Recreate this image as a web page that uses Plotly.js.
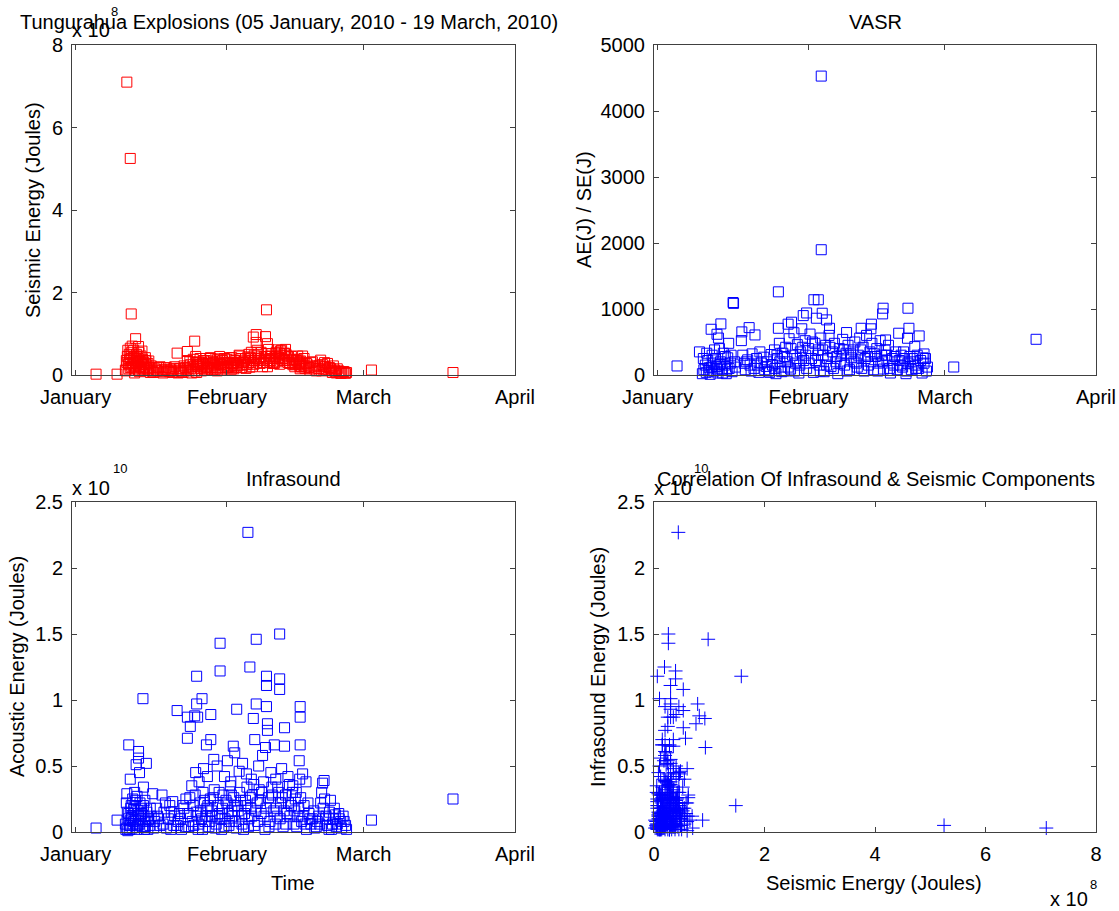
<!DOCTYPE html>
<html>
<head>
<meta charset="utf-8">
<script src="https://cdn.plot.ly/plotly-3.0.1.min.js"></script>
<style>
html,body{margin:0;padding:0;background:#fff;}
#chart{width:1119px;height:911px;}
</style>
</head>
<body>
<div id="chart"></div>
<script>
// ---------- DATA ----------
// Explosion events: day offset from 01 Jan 2010, seismic energy (x1e8 J), acoustic energy (x1e10 J)
const eventDay = [
 4.2, 8.5,
 10.5, 11.2, 11.4, 12.3, 11.2, 12.9, 10.9, 12.9, 12.9, 11.2, 13.8, 12.4, 14.5, 10.5, 13.9, 15.8,
 10.4, 10.6, 10.8, 11.0, 11.3, 11.5, 11.7, 11.9, 12.0, 12.2, 12.5, 12.6, 12.8, 13.0, 13.2, 13.4,
 13.5, 13.7, 14.0, 14.2, 14.4, 14.6, 14.8, 15.0, 15.2, 10.3, 10.7, 11.6, 12.1, 13.1, 14.1, 15.3,
 11.8, 13.6,
 16.2, 16.8, 17.3, 17.7, 18.1, 18.6, 19.0, 19.5, 19.9, 20.3, 20.8, 20.8, 21.3, 21.7, 22.2, 22.6,
 22.9, 22.9, 23.2, 23.5, 23.8, 19.3, 21.0,
 24.4, 24.8, 24.8, 25.9, 27.7, 25.0, 26.8, 27.7, 29.6, 29.6, 33.0, 35.3, 35.7, 37.0, 37.0, 36.4,
 36.7, 39.1, 39.1, 39.1, 41.8, 41.8, 41.8, 42.8, 39.3, 39.3, 38.9, 40.7, 42.8, 46.0, 46.0, 46.0,
 45.8, 32.3, 32.6, 31.1, 28.3, 26.2, 27.0, 25.3, 24.6, 29.0, 30.5, 31.8, 33.5, 34.2, 35.0, 36.0,
 37.5, 38.3, 40.0, 41.0, 42.2, 43.5, 44.5, 45.2, 46.5, 47.2,
 24.2, 24.7, 25.1, 25.5, 25.8, 26.1, 26.5, 26.9, 27.3, 27.6, 28.0, 28.4, 28.8, 29.2, 29.5, 29.9,
 30.2, 30.6, 31.0, 31.4, 31.7, 32.0, 32.4, 32.8, 33.2, 33.6, 34.0, 34.4, 34.8, 35.1, 35.5, 35.9,
 36.2, 36.6, 37.2, 37.6, 38.0, 38.5, 38.8, 39.5, 39.8, 40.2, 40.6, 41.3, 41.6, 42.0, 42.5, 43.0,
 43.3, 43.8, 44.2, 44.7, 45.0, 45.5, 45.9, 46.3, 46.8, 47.3, 47.8, 48.2, 48.5, 49.0, 49.5,
 50.2, 50.6, 50.9, 51.0, 51.3, 51.6, 52.0, 52.4, 52.8, 53.2, 53.6, 54.0, 54.5, 55.0, 55.5, 50.4,
 60.6, 77.3,
 10.2, 10.9, 11.1, 11.5, 11.9, 12.3, 12.7, 13.3, 13.9, 14.3, 14.9, 15.5, 16.0, 16.6, 17.0, 17.9,
 18.4, 19.6, 20.1, 21.5, 22.0, 22.5, 23.0, 23.4, 23.9, 24.1, 24.5, 24.9, 25.2, 25.6, 26.0, 26.4,
 26.7, 27.1, 27.5, 27.9, 28.2, 28.6, 29.1, 29.4, 29.8, 30.1, 30.4, 30.8, 31.2, 31.5, 31.9, 32.2,
 32.5, 32.9, 33.3, 33.8, 34.1, 34.6, 34.9, 35.4, 35.8, 36.1, 36.5, 36.9, 37.3, 37.8, 38.1, 38.6,
 39.0, 39.6, 39.9, 40.3, 40.9, 41.1, 41.4, 41.9, 42.3, 42.7, 43.1, 43.6, 43.9, 44.4, 44.9, 45.3,
 45.7, 46.1, 46.6, 47.0, 47.6, 48.0, 48.8, 49.3, 49.8, 50.0, 50.7, 51.2, 51.9, 52.2, 52.6, 53.0,
 53.4, 53.9, 54.3, 54.8, 55.3
];
const seismicE8 = [
 0.02, 0.02,
 7.10, 5.25, 1.48, 0.88, 0.65, 0.69, 0.15, 0.20, 0.12, 0.18, 0.10, 0.22, 0.25, 0.30, 0.15, 0.08,
 0.35, 0.45, 0.25, 0.50, 0.40, 0.55, 0.30, 0.60, 0.45, 0.35, 0.50, 0.28, 0.40, 0.55, 0.32, 0.46,
 0.25, 0.38, 0.30, 0.20, 0.35, 0.15, 0.28, 0.34, 0.18, 0.10, 0.60, 0.70, 0.05, 0.08, 0.12, 0.06,
 0.22, 0.58,
 0.15, 0.10, 0.20, 0.12, 0.08, 0.18, 0.10, 0.14, 0.06, 0.20, 0.53, 0.10, 0.16, 0.08, 0.22, 0.12,
 0.57, 0.35, 0.10, 0.25, 0.05, 0.08, 0.05,
 0.82, 0.06, 0.30, 0.30, 0.40, 0.25, 0.20, 0.15, 0.26, 0.39, 0.30, 0.44, 0.19, 0.98, 0.79, 0.92,
 0.35, 1.58, 0.30, 0.45, 0.26, 0.39, 0.53, 0.53, 0.76, 0.20, 0.93, 0.28, 0.35, 0.20, 0.30, 0.15,
 0.25, 0.28, 0.22, 0.18, 0.30, 0.35, 0.12, 0.25, 0.45, 0.10, 0.40, 0.22, 0.48, 0.30, 0.26, 0.55,
 0.40, 0.20, 0.35, 0.45, 0.60, 0.30, 0.25, 0.35, 0.46, 0.20,
 0.15, 0.30, 0.20, 0.40, 0.10, 0.25, 0.35, 0.18, 0.28, 0.42, 0.12, 0.22, 0.32, 0.18, 0.45, 0.25,
 0.15, 0.30, 0.38, 0.20, 0.28, 0.42, 0.15, 0.35, 0.22, 0.46, 0.18, 0.32, 0.40, 0.25, 0.50, 0.30,
 0.20, 0.48, 0.60, 0.35, 0.55, 0.30, 0.45, 0.62, 0.40, 0.52, 0.30, 0.61, 0.42, 0.58, 0.35, 0.62,
 0.48, 0.30, 0.45, 0.38, 0.25, 0.46, 0.32, 0.20, 0.40, 0.28, 0.18, 0.30, 0.32, 0.15, 0.22,
 0.36, 0.25, 0.20, 0.30, 0.12, 0.28, 0.18, 0.10, 0.22, 0.08, 0.15, 0.08, 0.05, 0.08, 0.06, 0.10,
 0.12, 0.06,
 0.12, 0.28, 0.38, 0.20, 0.42, 0.15, 0.33, 0.18, 0.26, 0.42, 0.12, 0.22, 0.06, 0.12, 0.18, 0.05,
 0.14, 0.10, 0.16, 0.12, 0.06, 0.18, 0.15, 0.32, 0.20, 0.38, 0.10, 0.22, 0.32, 0.16, 0.28, 0.12,
 0.40, 0.22, 0.18, 0.34, 0.25, 0.14, 0.38, 0.28, 0.12, 0.35, 0.22, 0.18, 0.30, 0.42, 0.14, 0.26,
 0.36, 0.18, 0.30, 0.40, 0.24, 0.36, 0.16, 0.30, 0.42, 0.35, 0.26, 0.40, 0.50, 0.28, 0.44, 0.36,
 0.52, 0.34, 0.46, 0.28, 0.40, 0.55, 0.32, 0.48, 0.40, 0.52, 0.36, 0.44, 0.28, 0.34, 0.20, 0.38,
 0.28, 0.34, 0.24, 0.16, 0.24, 0.12, 0.20, 0.10, 0.16, 0.24, 0.14, 0.20, 0.12, 0.16, 0.06, 0.12,
 0.05, 0.10, 0.04, 0.08, 0.04
];
const acousticE10 = [
 0.03, 0.09,
 0.03, 0.05, 0.20, 0.09, 0.09, 0.12, 0.66, 0.61, 0.56, 0.40, 1.01, 0.51, 0.52, 0.29, 0.34, 0.29,
 0.22, 0.15, 0.10, 0.05, 0.18, 0.12, 0.25, 0.08, 0.20, 0.14, 0.02, 0.27, 0.16, 0.06, 0.22, 0.10,
 0.18, 0.04, 0.12, 0.24, 0.08, 0.15, 0.02, 0.10, 0.05, 0.02, 0.01, 0.03, 0.30, 0.45, 0.02, 0.18,
 0.06, 0.14,
 0.08, 0.12, 0.05, 0.28, 0.15, 0.03, 0.10, 0.02, 0.23, 0.12, 0.92, 0.05, 0.14, 0.02, 0.18, 0.25,
 0.71, 0.87, 0.04, 0.80, 0.35, 0.20, 0.08,
 0.88, 1.18, 0.97, 1.01, 0.89, 0.87, 0.66, 0.70, 1.43, 1.22, 0.93, 2.27, 1.25, 1.46, 0.97, 0.86,
 0.70, 1.18, 1.11, 0.95, 1.50, 1.16, 1.08, 0.79, 0.82, 0.77, 0.64, 0.66, 0.65, 0.95, 0.87, 0.66,
 0.54, 0.65, 0.60, 0.54, 0.55, 0.48, 0.42, 0.38, 0.45, 0.50, 0.42, 0.38, 0.46, 0.52, 0.44, 0.40,
 0.50, 0.58, 0.45, 0.40, 0.48, 0.42, 0.35, 0.30, 0.44, 0.38,
 0.05, 0.15, 0.02, 0.22, 0.10, 0.30, 0.08, 0.18, 0.04, 0.25, 0.12, 0.32, 0.06, 0.20, 0.14, 0.02,
 0.28, 0.10, 0.22, 0.05, 0.35, 0.16, 0.26, 0.08, 0.20, 0.30, 0.12, 0.02, 0.24, 0.34, 0.10, 0.18,
 0.28, 0.05, 0.22, 0.32, 0.14, 0.38, 0.02, 0.26, 0.08, 0.34, 0.16, 0.12, 0.30, 0.22, 0.04, 0.28,
 0.14, 0.36, 0.20, 0.06, 0.25, 0.12, 0.40, 0.08, 0.20, 0.02, 0.14, 0.06, 0.10, 0.03, 0.08,
 0.22, 0.37, 0.39, 0.25, 0.12, 0.05, 0.15, 0.02, 0.10, 0.13, 0.06, 0.10, 0.03, 0.08, 0.02, 0.30,
 0.09, 0.25,
 0.06, 0.14, 0.02, 0.11, 0.17, 0.24, 0.05, 0.13, 0.20, 0.04, 0.09, 0.12, 0.03, 0.18, 0.10, 0.06,
 0.22, 0.15, 0.05, 0.10, 0.20, 0.04, 0.14, 0.26, 0.08, 0.20, 0.28, 0.12, 0.06, 0.16, 0.02, 0.24,
 0.12, 0.20, 0.08, 0.16, 0.26, 0.03, 0.12, 0.30, 0.10, 0.18, 0.04, 0.24, 0.14, 0.08, 0.28, 0.12,
 0.20, 0.03, 0.16, 0.24, 0.06, 0.14, 0.20, 0.04, 0.26, 0.12, 0.36, 0.16, 0.08, 0.24, 0.30, 0.12,
 0.18, 0.04, 0.22, 0.28, 0.06, 0.18, 0.34, 0.10, 0.26, 0.16, 0.06, 0.22, 0.12, 0.30, 0.16, 0.04,
 0.18, 0.26, 0.12, 0.06, 0.22, 0.10, 0.16, 0.04, 0.12, 0.06, 0.18, 0.10, 0.02, 0.24, 0.06, 0.18,
 0.04, 0.14, 0.08, 0.12, 0.05
];
// VASR (acoustic / seismic energy ratio): day offset from 01 Jan 2010 and ratio value
const vasrDay = [
 4.0, 8.6, 11.0, 13.0, 12.2, 12.5, 15.5, 15.6, 17.2, 17.3, 18.8, 20.0, 17.8, 24.8, 24.8, 27.5,
 26.8, 29.9, 30.6, 32.1, 33.0, 33.6, 33.6, 33.8, 34.7, 35.3, 38.8, 41.8, 43.8, 43.9, 46.3, 46.2,
 46.8, 49.5, 51.4, 51.6, 51.3, 53.7, 52.8, 54.7, 60.8, 77.7,
 9.2, 9.5, 9.8, 10.0, 10.3, 10.6, 10.8, 11.2, 11.4, 11.6, 11.9, 12.1, 12.4, 12.7, 12.9, 13.2,
 13.5, 13.8, 14.1, 14.4, 14.7, 15.0, 15.3, 15.8, 14.6,
 17.5, 18.0, 18.5, 19.0, 19.4, 19.8, 20.3, 20.8, 21.3, 21.8, 22.3, 22.8, 23.3,
 23.6, 24.0, 24.3, 24.6, 25.0, 25.3, 25.7, 26.0, 26.3, 26.6, 27.0, 27.3, 27.7, 28.0, 28.3, 28.7,
 29.0, 29.3, 29.6, 30.0, 30.3, 30.6, 31.0, 31.3, 31.6, 32.0, 32.3, 32.6, 32.9, 33.2, 33.5, 33.9,
 34.2, 34.5, 34.9, 35.2, 35.6, 35.9, 36.3, 36.6, 37.0, 37.3, 37.7, 38.0, 38.4, 38.7, 39.1, 39.4,
 39.8, 40.1, 40.5, 40.8, 41.2, 41.5, 41.9, 42.2, 42.6, 42.9, 43.3, 43.6, 44.0, 44.3, 44.7, 45.0,
 45.4, 45.7, 46.0, 46.4, 46.7, 47.1, 47.4, 47.8, 48.2, 48.5, 48.9, 49.2, 49.6, 50.0, 50.3, 50.7,
 51.0, 51.4, 51.8, 52.1, 52.5, 52.9, 53.3, 53.6, 54.0, 54.3, 54.7, 55.0, 55.4,
 9.4, 10.1, 10.5, 11.1, 11.7, 12.3, 12.8, 13.3, 13.9, 14.3, 15.1, 16.0, 18.2, 19.2, 20.5, 21.0,
 22.0, 22.5, 23.0, 24.1, 24.5, 25.1, 25.5, 26.1, 26.8, 27.4, 28.1, 28.6, 29.2, 29.8, 30.4, 31.1,
 31.8, 32.4, 33.0, 33.4, 34.0, 34.7, 35.4, 36.1, 36.8, 37.5, 38.2, 38.9, 39.6, 40.3, 41.0, 41.7,
 42.4, 43.1, 43.8, 44.5, 45.2, 46.2, 47.0, 47.6, 48.7, 49.9, 50.5, 51.2, 52.3, 53.0, 54.5, 55.2
];
const vasrValue = [
 137, 350, 693, 774, 617, 560, 1098, 1085, 521, 653, 718, 607, 177, 1260, 708, 800,
 770, 900, 940, 1140, 1140, 4529, 1898, 936, 835, 708, 643, 708, 700, 770, 1012, 926,
 531, 633, 1012, 708, 557, 592, 430, 319, 121, 541,
 20, 80, 150, 40, 220, 110, 10, 300, 180, 60, 250, 130, 30, 400, 200, 90,
 330, 150, 20, 260, 100, 180, 50, 200, 480,
 300, 80, 230, 150, 320, 100, 250, 40, 180, 270, 130, 60, 310,
 150, 380, 20, 250, 480, 120, 330, 60, 420, 200, 550, 90, 300, 640, 180, 460,
 30, 350, 700, 220, 520, 100, 400, 620, 250, 40, 480, 860, 300, 150, 560, 380,
 50, 450, 250, 600, 130, 350, 480, 200, 20, 400, 300, 540, 150, 330, 450, 80,
 260, 380, 500, 180, 300, 560, 100, 420, 250, 600, 150, 350, 480, 80, 280, 400,
 180, 520, 300, 90, 380, 220, 450, 30, 250, 150, 350, 80, 220, 300, 120, 250,
 20, 180, 280, 80, 200, 150, 300, 100, 220, 30, 180, 250, 120,
 250, 330, 60, 120, 380, 90, 160, 30, 280, 90, 300, 120, 200, 60, 150, 350,
 80, 200, 40, 100, 300, 200, 50, 280, 120, 400, 60, 250, 150, 420, 300, 180,
 500, 220, 380, 60, 300, 150, 420, 100, 280, 180, 380, 60, 320, 200, 120, 380,
 60, 280, 200, 320, 60, 200, 300, 100, 280, 150, 350, 60, 250, 100, 260, 60
];
// Tick labels
const monthTickDates = ['2010-01-01', '2010-02-01', '2010-03-01', '2010-04-01'];
const monthTickLabels = ['January', 'February', 'March', 'April'];
const seTicks = [0, 2, 4, 6, 8];
const vasrTicks = [0, 1000, 2000, 3000, 4000, 5000];
const aeTicks = [0, 0.5, 1, 1.5, 2, 2.5];
const aeTickLabels = ['0', '0.5', '1', '1.5', '2', '2.5'];

// ---------- HELPERS ----------
const DAY = 86400000;
const T0 = Date.UTC(2010, 0, 1);
const toTime = d => T0 + d * DAY;
const W = 1119, H = 911;
const px = x => x / W;
const py = y => 1 - y / H;
const FONT = 'Liberation Sans, Arial, Helvetica, sans-serif';
const FS = 20;

const colL = [px(72), px(515)];
const colR = [px(654), px(1096)];
const rowT = [py(375), py(45)];
const rowB = [py(832), py(502)];
const timeRange = [toTime(-0.73), toTime(90)];

function axisBase(extra) {
  return Object.assign({
    showline: true, mirror: 'ticks', linecolor: '#404040', linewidth: 1,
    ticks: 'inside', ticklen: 5, tickwidth: 1, tickcolor: '#404040',
    showgrid: false, zeroline: false, fixedrange: true,
    tickfont: {family: FONT, size: FS, color: '#000'},
    ticklabelstandoff: 4
  }, extra);
}
function timeAxis(domain, anchor) {
  return axisBase({
    type: 'date', domain: domain, anchor: anchor, range: timeRange,
    tickmode: 'array', tickvals: monthTickDates, ticktext: monthTickLabels
  });
}

const sqBase = {symbol: 'square-open', size: 10, line: {width: 1}};

const traces = [
  {type: 'scatter', mode: 'markers', x: eventDay.map(toTime), y: seismicE8,
   xaxis: 'x', yaxis: 'y', cliponaxis: false, hoverinfo: 'skip',
   marker: Object.assign({}, sqBase, {color: '#ff0000'})},
  {type: 'scatter', mode: 'markers', x: vasrDay.map(toTime), y: vasrValue,
   xaxis: 'x2', yaxis: 'y2', cliponaxis: false, hoverinfo: 'skip',
   marker: Object.assign({}, sqBase, {color: '#0000ff'})},
  {type: 'scatter', mode: 'markers', x: eventDay.map(toTime), y: acousticE10,
   xaxis: 'x3', yaxis: 'y3', cliponaxis: false, hoverinfo: 'skip',
   marker: Object.assign({}, sqBase, {color: '#0000ff'})},
  {type: 'scatter', mode: 'markers', x: seismicE8, y: acousticE10,
   xaxis: 'x4', yaxis: 'y4', cliponaxis: false, hoverinfo: 'skip',
   marker: {symbol: 'cross-thin-open', size: 10, color: '#0000ff', line: {width: 1, color: '#0000ff'}}}
];

function ann(text, x, y, opts) {
  return Object.assign({
    text: text, xref: 'paper', yref: 'paper', x: px(x), y: py(y),
    xanchor: 'center', yanchor: 'middle', showarrow: false,
    font: {family: FONT, size: FS, color: '#000'}
  }, opts || {});
}
const small = {font: {family: FONT, size: 13, color: '#000'}};

const annotations = [
  ann('Tungurahua Explosions (05 January, 2010 - 19 March, 2010)', 289, 22),
  ann('VASR', 875, 22),
  ann('Infrasound', 293, 479),
  ann('Correlation Of Infrasound &amp; Seismic Components', 876, 479),
  ann('Seismic Energy (Joules)', 33, 210, {textangle: -90}),
  ann('AE(J) / SE(J)', 584, 210, {textangle: -90}),
  ann('Acoustic Energy (Joules)', 17, 667, {textangle: -90}),
  ann('Infrasound Energy (Joules)', 598, 667, {textangle: -90}),
  ann('Time', 293, 883),
  ann('Seismic Energy (Joules)', 874, 883),
  // exponent labels
  ann('x 10', 91, 30),
  ann('8', 114, 12, small),
  ann('x 10', 91, 488),
  ann('10', 120, 468, small),
  ann('x 10', 673, 488),
  ann('10', 701, 468, small),
  ann('x 10', 1069, 899),
  ann('8', 1093, 884, small)
];

const layout = {
  width: W, height: H,
  margin: {l: 0, r: 0, t: 0, b: 0},
  paper_bgcolor: '#ffffff', plot_bgcolor: '#ffffff',
  showlegend: false,
  font: {family: FONT, size: FS, color: '#000'},
  xaxis: timeAxis(colL, 'y'),
  yaxis: axisBase({domain: rowT, anchor: 'x', range: [0, 8], tickmode: 'array', tickvals: seTicks}),
  xaxis2: timeAxis(colR, 'y2'),
  yaxis2: axisBase({domain: rowT, anchor: 'x2', range: [0, 5000], tickmode: 'array', tickvals: vasrTicks}),
  xaxis3: timeAxis(colL, 'y3'),
  yaxis3: axisBase({domain: rowB, anchor: 'x3', range: [0, 2.5], tickmode: 'array', tickvals: aeTicks, ticktext: aeTickLabels}),
  xaxis4: axisBase({domain: colR, anchor: 'y4', range: [0, 8], tickmode: 'array', tickvals: seTicks}),
  yaxis4: axisBase({domain: rowB, anchor: 'x4', range: [0, 2.5], tickmode: 'array', tickvals: aeTicks, ticktext: aeTickLabels}),
  annotations: annotations
};

Plotly.newPlot('chart', traces, layout, {staticPlot: true, displayModeBar: false});
</script>
</body>
</html>
